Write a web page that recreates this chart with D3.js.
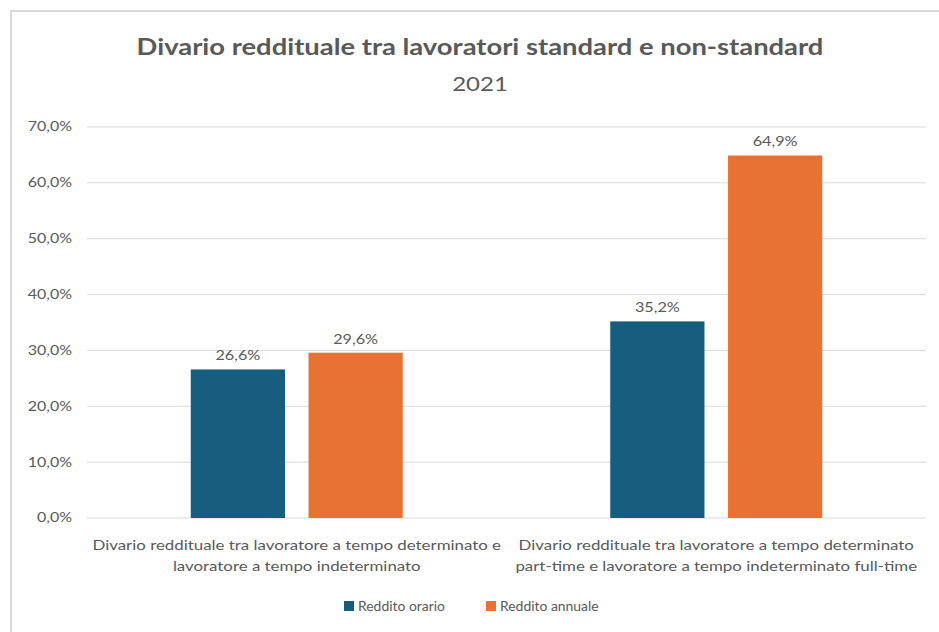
<!DOCTYPE html>
<html>
<head>
<meta charset="utf-8">
<script src="https://cdn.jsdelivr.net/npm/d3@7"></script>
<style>
  body { margin: 0; background: #fff; }
  svg { display: block; font-family: Lato, "Open Sans", sans-serif; }
</style>
</head>
<body>
<svg id="chart" width="939" height="632"></svg>
<script>
const categories = [
  ["Divario reddituale tra lavoratore a tempo determinato e", "lavoratore a tempo indeterminato"],
  ["Divario reddituale tra lavoratore a tempo determinato", "part-time e lavoratore a tempo indeterminato full-time"]
];
const seriesNames = ["Reddito orario", "Reddito annuale"];
const redditoOrario = [26.6, 35.2];
const redditoAnnuale = [29.6, 64.9];
const yTicks = [0, 10, 20, 30, 40, 50, 60, 70];

const colors = ["#175d7e", "#e87233"];
const textColor = "#595959";

const svg = d3.select("#chart");

// the reference text is a bit wide, stretch it horizontally
const stretch = (px, py, sx) => `translate(${px},${py}) scale(${sx},1)`;

// chart frame
svg.append("rect")
  .attr("x", 11).attr("y", 11)
  .attr("width", 960).attr("height", 660)
  .attr("fill", "none")
  .attr("stroke", "#d9d9d9")
  .attr("stroke-width", 2);

svg.append("text")
  .attr("transform", stretch(480, 55, 1.245))
  .attr("text-anchor", "middle")
  .attr("font-size", "22px")
  .attr("font-weight", "bold")
  .attr("fill", textColor)
  .text("Divario reddituale tra lavoratori standard e non-standard");

svg.append("text")
  .attr("transform", stretch(480, 91, 1.2))
  .attr("text-anchor", "middle")
  .attr("font-size", "20px")
  .attr("fill", textColor)
  .text("2021");

const plot = {left: 87, right: 926, top: 127, bottom: 518};

const x = d3.scaleBand()
  .domain(d3.range(categories.length))
  .range([plot.left, plot.right]);

const xInner = d3.scaleBand()
  .domain(seriesNames)
  .range([0, 212])
  .paddingInner(0.2);

const y = d3.scaleLinear().domain([0, 70]).range([plot.bottom, plot.top]);

// gridlines
svg.append("g")
  .selectAll("line")
  .data(yTicks)
  .enter().append("line")
  .attr("x1", plot.left).attr("x2", plot.right)
  .attr("y1", d => y(d)).attr("y2", d => y(d))
  .attr("stroke", "#d9d9d9")
  .attr("stroke-width", 1);

// y axis labels
const fmt = d => d3.format(".1f")(d).replace(".", ",") + "%";
svg.append("g")
  .selectAll("text")
  .data(yTicks)
  .enter().append("text")
  .attr("transform", d => stretch(72, y(d), 1.28))
  .attr("dy", "0.35em")
  .attr("text-anchor", "end")
  .attr("font-size", "12.5px")
  .attr("fill", textColor)
  .text(fmt);

const barData = [];
categories.forEach((c, i) => {
  barData.push({cat: i, series: seriesNames[0], value: redditoOrario[i], color: colors[0]});
  barData.push({cat: i, series: seriesNames[1], value: redditoAnnuale[i], color: colors[1]});
});

const groupOffset = (x.bandwidth() - 212) / 2;
const barX = d => x(d.cat) + groupOffset + xInner(d.series);

svg.append("g")
  .selectAll("rect")
  .data(barData)
  .enter().append("rect")
  .attr("x", barX)
  .attr("y", d => y(d.value))
  .attr("width", xInner.bandwidth())
  .attr("height", d => y(0) - y(d.value))
  .attr("fill", d => d.color);

svg.append("g")
  .selectAll("text")
  .data(barData)
  .enter().append("text")
  .attr("transform", d => stretch(barX(d) + xInner.bandwidth() / 2, y(d.value) - 9, 1.2))
  .attr("text-anchor", "middle")
  .attr("font-size", "13.5px")
  .attr("fill", textColor)
  .text(d => fmt(d.value));

// category labels
const catG = svg.append("g")
  .selectAll("text")
  .data(categories)
  .enter().append("text")
  .attr("transform", (d, i) => stretch(x(i) + x.bandwidth() / 2, 550, 1.25))
  .attr("text-anchor", "middle")
  .attr("font-size", "13.5px")
  .attr("fill", textColor);

catG.selectAll("tspan")
  .data(d => d)
  .enter().append("tspan")
  .attr("x", 0)
  .attr("dy", (d, i) => i === 0 ? 0 : 21)
  .text(d => d);

// legend
const legendX = [344, 486];
const legend = svg.append("g")
  .selectAll("g")
  .data(seriesNames)
  .enter().append("g")
  .attr("transform", (d, i) => `translate(${legendX[i]}, 606)`);

legend.append("rect")
  .attr("x", 0).attr("y", -5)
  .attr("width", 10).attr("height", 10)
  .attr("fill", (d, i) => colors[i]);

legend.append("text")
  .attr("transform", stretch(14, 0, 1.07))
  .attr("dy", "0.35em")
  .attr("font-size", "13px")
  .attr("fill", textColor)
  .text(d => d);
</script>
</body>
</html>
